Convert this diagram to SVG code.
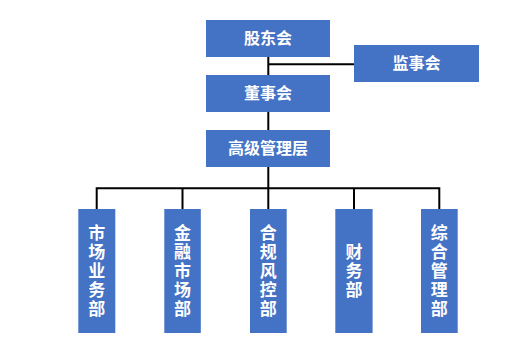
<svg xmlns="http://www.w3.org/2000/svg" width="532" height="351" viewBox="0 0 532 351">
<style>
.box{fill:#4472C4;}
.t{fill:#fff;font-family:"Noto Sans CJK SC","Noto Sans",sans-serif;font-weight:bold;font-size:16px;text-anchor:middle;}
.v{font-size:17px;writing-mode:vertical-rl;letter-spacing:2px;}
.ln{stroke:#000;stroke-width:2;fill:none;}
</style>
<rect width="532" height="351" fill="#fff"/>
<g id="connectors">
<path class="ln" d="M268.3 57V130M268.3 64.3H354M268.3 167V188.3M96.7 188.3H439.3M96.7 187.3V209M182.5 188.3V209M268.3 188.3V209M354 188.3V209M439.3 187.3V209"/>
</g>
<g id="n-gudong"><rect class="box" x="206" y="20" width="124" height="37"/><text class="t" x="268" y="44">股东会</text></g>
<g id="n-jianshi"><rect class="box" x="354" y="45" width="125" height="37"/><text class="t" x="416.5" y="69">监事会</text></g>
<g id="n-dongshi"><rect class="box" x="206" y="75" width="124" height="37"/><text class="t" x="268" y="99">董事会</text></g>
<g id="n-gaoguan"><rect class="box" x="206" y="130" width="124" height="37"/><text class="t" x="268" y="154">高级管理层</text></g>
<g id="n-shichang"><rect class="box" x="78.3" y="209" width="37" height="124"/><text class="t v" x="96.8" y="272">市场业务部</text></g>
<g id="n-jinrong"><rect class="box" x="164.3" y="209" width="36.5" height="124"/><text class="t v" x="182.5" y="272">金融市场部</text></g>
<g id="n-hegui"><rect class="box" x="250" y="209" width="36.7" height="124"/><text class="t v" x="268.3" y="272">合规风控部</text></g>
<g id="n-caiwu"><rect class="box" x="335.3" y="209" width="37.3" height="124"/><text class="t v" x="354" y="272">财务部</text></g>
<g id="n-zonghe"><rect class="box" x="421" y="209" width="36.7" height="124"/><text class="t v" x="439.3" y="272">综合管理部</text></g>
</svg>
